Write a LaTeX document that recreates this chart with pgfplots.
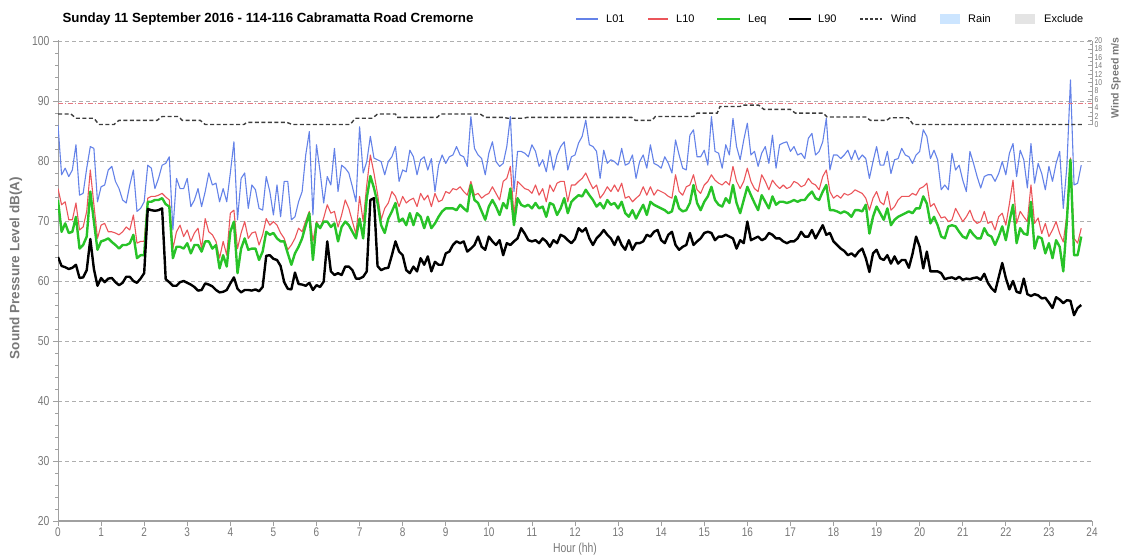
\documentclass[border=0pt]{standalone}
\usepackage{fontspec}
\setmainfont{Liberation Sans}
\newfontfamily\narrowfont[FakeStretch=0.8]{Liberation Sans}
\usepackage{pgfplots}
\pgfplotsset{compat=1.18}
\usepackage{pgfplotstable}
\definecolor{cLa}{RGB}{100,130,232}
\definecolor{cLb}{RGB}{235,85,90}
\definecolor{cLeq}{RGB}{40,195,40}
\definecolor{cgrid}{RGB}{175,175,175}
\definecolor{ctick}{RGB}{120,120,120}
\definecolor{caxis}{RGB}{160,160,160}
\definecolor{crain}{RGB}{204,229,255}
\definecolor{cexcl}{RGB}{228,228,228}
\definecolor{cwind}{RGB}{60,60,60}
\definecolor{climit}{RGB}{230,120,130}

\pgfplotstableread{
min L01 L10 Leq L90
0 86 75.4 73.5 64
5 77.7 72.7 68.2 62.5
10 78.8 73.2 69.6 62.3
15 77.4 70.2 68 62
20 78.5 70.2 68.2 62.2
25 82.7 73 70.7 62.7
30 74.3 68.5 65.4 60.5
35 74.6 69 66 60.6
40 78.8 71.6 67.4 61.8
45 82.4 78.5 74.9 67
50 82.1 72.7 69.9 62
55 73.2 67.1 65.2 59.2
60 75.7 69.3 66.6 60.5
65 76 69.6 66.8 59.8
70 78.5 68.2 67.1 60.4
75 79.1 68.2 66.5 60.5
80 76.6 68 66 59.8
85 75.4 67.7 65.4 59.3
90 73.5 68.2 66 59.7
95 73 69 66 60.7
100 76 68.5 66.3 60.7
105 78.5 71 67.7 60
110 71.6 66.3 63.8 59.7
115 72.1 66.6 64.3 60.4
120 73.2 66.6 64.3 61.3
125 79.3 73.8 73.2 72
130 78.8 74.1 73.2 71.8
135 75.4 74.1 73.5 71.7
140 77.1 74.3 73.5 71.8
145 79.3 74.6 73.8 72.1
150 79.6 74 72.8 60.3
155 80.7 73.5 72.4 59.8
160 68.5 65.4 63.8 59.2
165 77.1 68.2 65.7 59.2
170 75.4 69.3 65.7 59.8
175 75.4 67.4 65.4 60
180 77.1 68.5 66.3 59.7
185 72.4 66.6 64.6 59.4
190 73.5 68 66 59
195 75.4 68.8 66 58.4
200 72.4 65.4 64.9 58.5
205 74.9 70.4 66.6 59.6
210 78 68.2 66.6 59.4
215 76 67.7 65.4 59.1
220 76.3 66.6 66 58.5
225 73.2 63.8 62.1 58.1
230 75.4 66.6 64.3 58.2
235 73.2 64.3 62.4 58.5
240 78 71.3 68.2 59.6
245 83.2 71.8 69.9 60.6
250 70.2 65.4 61.3 58.7
255 77.1 68 65.4 58.1
260 78 69.9 67.1 58.5
265 72.1 67.1 65.2 58.5
270 76 68 65.4 58.4
275 75.2 68.2 65.4 58.6
280 72.1 66 63.5 58.3
285 71.8 67.7 64.9 59
290 77.4 70.4 68.2 64.2
295 74.9 69.3 67.7 64.3
300 71 69.9 68 63.7
305 76 69.3 67.1 63.5
310 70.7 68 66.6 62.5
315 76.6 67.1 66.6 59.8
320 76.6 65.2 64.6 58.7
325 70.2 66 62.7 58.6
330 70.7 67.1 64.6 61.4
335 73.2 68.8 65.7 59.5
340 74.9 68.2 67.1 59.4
345 81 70 69.3 59.2
350 84.9 71.6 71.3 59.7
355 71 66.6 63.5 58.5
360 82.7 69.9 69.6 59.3
365 78.2 68.8 68.8 59
370 73 70.5 69.9 59.9
375 77.4 72.7 69.9 66.6
380 76 71.3 69 61.6
385 82.1 71.6 69.6 61
390 74.9 69 66.6 61.3
395 79.3 71 69 61
400 78.8 73.5 69.9 62.4
405 78 72.1 69.3 62.4
410 75.7 69.9 68.2 61.8
415 73.2 67.8 67.1 60.4
420 85.7 74.1 70.4 60.4
425 78 69.9 67.1 60.7
430 79.9 76 73.8 61.6
435 84.1 81 77.5 73.5
440 80.5 78 75.5 73.8
445 80.2 74.5 73 62.5
450 79.9 70.2 69.3 61.8
455 77.7 72.1 68 62.1
460 79.9 73 70.4 62.2
465 80.7 74.9 71.6 64.3
470 82.4 74.1 73 66.6
475 76.6 72.4 69.9 64.9
480 78.5 74.1 70.4 64.3
485 78.2 73 69.3 61.8
490 81.8 73.5 71.3 61.3
495 80.7 73.8 69.3 62.4
500 77.7 72.4 71.3 61.6
505 80.2 74.6 70.7 63.8
510 80.7 73.5 68.8 62.7
515 78.5 74.3 70.7 64.1
520 80.4 72.4 68.8 61.6
525 74.9 74.6 69.6 63.2
530 79.3 73.2 70.7 62.7
535 81 73.5 71.6 62.7
540 79.6 74.9 72.1 64.6
545 80.7 74.6 72.1 64.9
550 81 75.4 72.1 66
555 82.4 75.2 71.8 66.6
560 81 75.7 72.7 66.3
565 80.7 74.9 72.1 66.6
570 79.1 74.3 71.6 64.9
575 87.4 76.6 76 65.4
580 82.1 74.3 73.5 66
585 81 74.6 73 67.4
590 80.4 73.8 71.6 65.7
595 77.7 74.3 70.2 65.2
600 81.3 74.6 72.4 67.4
605 83.2 75.7 73.5 66.6
610 79.9 74.6 72.4 66
615 79.1 73.5 71 66.8
620 79.6 76.6 73 64.3
625 82.4 77.1 72.1 66.3
630 87.4 79.1 75.4 66
635 74.9 71 69.3 66.6
640 81.6 76.6 73.8 67.1
645 81.6 76 72.7 68.8
650 81.3 75.4 72.4 67.9
655 80.7 75.2 72.7 66.8
660 82.7 74.6 72.1 66.6
665 81.6 76 73 66.8
670 79.1 74.3 72.1 66.3
675 80.2 75.4 72.4 67.1
680 78.2 73.2 70.7 66.6
685 81.8 76 73 65.7
690 78.5 74.9 72.7 66.8
695 81 76.3 71 66.3
700 82.4 76.6 72.1 67.7
705 83.2 76.6 73.8 67.4
710 78.5 73.2 71.3 66.8
715 80.7 76 73.2 66.3
720 81 76 73.8 67
725 83 76.6 74.3 68.8
730 84.1 77.1 74.1 68.2
735 86.8 78 75.2 68.8
740 82.7 76.6 74.3 67.1
745 82.4 75.4 73.5 66
750 81.6 76 72.4 67.1
755 77.1 73.8 73 67.7
760 81.8 74.6 72.1 68.5
765 79.6 75.7 73.5 67.7
770 80.2 74.9 72.7 67.1
775 79.9 76 73 66
780 79.3 74.9 72.1 67.4
785 82.1 76.3 73.2 66
790 79.3 73.8 71.3 65.2
795 79.6 74.1 70.7 66.8
800 81 73.2 71.8 65.2
805 77.1 73.8 70.4 66.3
810 79.9 74.3 71.6 66.3
815 81 75.7 72.7 66.6
820 78.8 74.3 71 67.7
825 82.7 75.7 73.2 67.4
830 79.6 74.3 72.7 68.2
835 79.3 75.2 72.4 68.5
840 78.8 74.9 72.1 66.8
845 80.7 74.6 71.8 66.3
850 79.6 74.1 71.3 67.7
855 78 73.8 71.6 68.2
860 83.5 77.7 74.1 66
865 81 74.9 72.1 65.2
870 78.8 74.3 71.6 65.7
875 78.5 75.7 71.8 66
880 84.3 76 73 68
885 85.2 77.7 76 66
890 80.7 75.2 73 66.6
895 80.7 74.6 71.8 67.1
900 81.8 76 73.2 68
905 79.3 76.6 74.1 68.2
910 87.4 77.7 75.7 68
915 81.6 76.8 73.5 66.8
920 81.3 76.3 72.7 67.4
925 78.8 76 72.4 67.4
930 82.7 76.6 73.8 67.7
935 81 76 73 67.4
940 87.1 79.1 76 67.1
945 82.4 76.6 73 65.4
950 80.2 75.4 71.3 66.8
955 83.5 76.6 73.5 66.3
960 86.3 78.8 75.7 69.9
965 81 76.6 74.3 66.8
970 81.6 75.4 73 67.1
975 79.1 74.9 71.8 67.4
980 81.3 77.7 74.3 66.8
985 82.4 76.6 73.2 67.1
990 79.6 75.2 72.1 68
995 84.3 76.8 74.1 67.7
1000 78.8 76 72.7 67.1
1005 82.7 75.4 73.2 67.1
1010 83 76 73.2 66.6
1015 83.2 75.4 73 66.3
1020 81.6 75.7 73.2 66.6
1025 82.4 76.6 73.5 66.6
1030 81 76.3 73.2 67.1
1035 81.3 75.7 73.5 68.2
1040 80.4 76 73.5 67.4
1045 83.8 77.1 74.3 67.4
1050 84.6 76.3 74.9 68.5
1055 81 76 73.8 67.1
1060 81.6 75.2 73.5 68.2
1065 83.2 77.4 74.9 69.3
1070 87.1 78.5 76 67.7
1075 78.5 74.9 71.8 68
1080 81 73.8 71.8 66.6
1085 81 74.3 71.6 66
1090 80.4 73.8 71.3 65.4
1095 81 74.6 71.6 65
1100 81.8 74.3 71.3 64.3
1105 80.2 74.6 70.7 64.6
1110 81.8 75.2 71.8 64.1
1115 80.2 74.9 71.8 64.9
1120 81 74.6 71.6 65.4
1125 80.4 73.8 72.7 63.8
1130 77.1 71.8 67.9 61.5
1135 79.9 73.8 70.7 64.6
1140 82.4 74.9 72.4 65.2
1145 79.3 73.2 71.3 63.8
1150 79.3 72.7 70.2 63.5
1155 81.6 74.9 72.1 64.3
1160 77.9 71.8 69.3 62.9
1165 80.2 72.4 70.2 64.1
1170 80.4 73.5 70.7 62.9
1175 82.1 74.1 71 63.5
1180 81 74.1 71.3 63.5
1185 80.7 74.1 71.6 62.2
1190 79.6 74.6 71.3 64.5
1195 81 74.3 72.1 67.4
1200 81.6 75.4 72.1 65.7
1205 85.2 75.7 74.1 62.1
1210 84.1 76.3 72.9 64.9
1215 80.4 72.4 69.6 61.6
1220 81.8 72.9 70.7 61.6
1225 80.2 71.6 69.3 61.6
1230 75.2 70.5 67.4 61.3
1235 76 70.7 67.1 60.3
1240 75.2 69.9 69.1 60.5
1245 81.3 70.2 69.3 60.6
1250 78.5 72.1 69.1 60.3
1255 79.3 71 68.2 60.7
1260 76.8 69.9 67.4 60.2
1265 74.9 70.7 67.1 60.4
1270 81.6 71.8 68.5 60.3
1275 79.6 70.2 67.7 60.5
1280 77.4 69.6 67.1 60.6
1285 75.5 69.9 67.1 60.2
1290 77.4 71.6 68.8 61.2
1295 77.7 69.6 67.7 59.7
1300 77.7 69.9 67.4 58.8
1305 76.6 68.5 66 58.2
1310 77.9 70.7 67.4 60.6
1315 79.9 71.3 69.1 63
1320 77.7 69.3 66.8 60.5
1325 81.3 72.9 69.9 58.6
1330 82.9 76.8 72.7 60
1335 77.4 69.6 66.3 58.2
1340 81.8 71.6 68.8 58
1345 80.2 70.7 67.9 60.4
1350 75.5 69.9 67.7 57.8
1355 82.9 76 73.2 57.5
1360 76.3 69.6 65.4 57.8
1365 79.6 70.5 67.4 57.6
1370 77.9 67.9 67.1 57.1
1375 75.2 69.6 64.6 57.2
1380 79.1 67.4 66.3 56.4
1385 76.6 68.5 63.8 55.5
1390 79.6 69.9 66.8 57.3
1395 81.6 67.9 65.7 56.9
1400 72.1 66.5 61.6 56.3
1405 79.1 71 70 56.8
1410 93.5 80.5 80.2 56.7
1415 76 67.1 64.3 54.3
1420 76.3 66.3 64.3 55.5
1425 79.3 68.8 67.4 56
}\noisedata

\pgfplotstableread{
min wind
0 2.5
18 2.5
25 1.5
50 1.5
57 0
78 0
85 1
138 1
145 1.9
168 1.9
173 1
198 1
205 0
259 0
263 0.5
319 0.5
326 0
407 0
414 1.5
438 1.5
445 2.5
470 2.5
472 1.7
528 1.7
533 2.5
588 2.5
595 1.7
621 1.7
626 1.5
649 1.5
653 1.7
799 1.7
804 1
827 1
832 1.9
885 1.9
890 2.7
918 2.7
922 4.3
950 4.3
953 4.6
976 4.6
983 3.6
1020 3.6
1027 2.7
1066 2.7
1071 1.8
1126 1.8
1131 1
1154 1
1159 1.6
1184 1.6
1191 0
1428 0
}\winddata

\begin{document}
\begin{tikzpicture}[x=1pt,y=1pt]
\useasboundingbox (0,0) rectangle (1124,556);
\begin{axis}[
  at={(58pt,35pt)}, anchor=south west, scale only axis,
  width=1034pt, height=480.6pt,
  xmin=0, xmax=1440, ymin=20, ymax=100.1,
  axis x line*=bottom, axis y line*=left,
  x axis line style={draw=caxis, line width=2pt},
  y axis line style={draw=caxis, line width=1pt},
  xtick={0,60,...,1440}, xticklabels={0,1,...,24},
  ytick={20,30,...,100},
  minor y tick num=4,
  tick align=outside,
  major tick length=5pt, minor tick length=3pt,
  every tick/.style={draw=caxis, line width=0.8pt},
  ymajorgrids,
  grid style={draw=cgrid, dash pattern=on 4pt off 3pt, line width=0.8pt},
  /pgf/number format/assume math mode=true,
  xticklabel style={font=\narrowfont\fontsize{12.5}{13}\selectfont, text=ctick, yshift=2pt},
  yticklabel style={font=\narrowfont\fontsize{13}{14}\selectfont, text=ctick},
]
\addplot[cLa, line width=1.1pt, line join=round] table[x=min, y=L01]{\noisedata};
\addplot[cLb, line width=1.1pt, line join=round] table[x=min, y=L10]{\noisedata};
\addplot[cLeq, line width=2.4pt, line join=round] table[x=min, y=Leq]{\noisedata};
\addplot[black, line width=2.4pt, line join=round] table[x=min, y=L90]{\noisedata};
\end{axis}
\begin{axis}[
  at={(58pt,35pt)}, anchor=south west, scale only axis,
  width=1034pt, height=480.6pt,
  xmin=0, xmax=1440, ymin=-94.4, ymax=20.03,
  axis x line=none, axis y line*=right,
  y axis line style={draw=none},
  ytick={0,2,...,20}, minor ytick={1,3,...,19},
  tick align=inside,
  major tick length=4pt, minor tick length=2.5pt,
  every tick/.style={draw=caxis, line width=0.6pt},
  /pgf/number format/assume math mode=true,
  yticklabel style={font=\narrowfont\fontsize{8.5}{9}\selectfont, text=ctick, xshift=-1pt},
  clip=false,
]
\addplot[climit, line width=0.8pt, dash pattern=on 5pt off 2pt on 1pt off 2pt] coordinates {(0,5) (1440,5)};
\addplot[cwind, line width=1.4pt, dash pattern=on 4pt off 2.5pt] table[x=min, y=wind]{\winddata};
\draw[caxis, line width=1pt] (axis cs:1440,0) -- (axis cs:1440,20);
\end{axis}
% titles and labels
\node[anchor=west, font=\bfseries\fontsize{13.3}{15}\selectfont] at (59,537) {Sunday 11 September 2016 - 114-116 Cabramatta Road Cremorne};
\node[rotate=90, font=\bfseries\fontsize{13.5}{15}\selectfont, text=ctick] at (16,288) {Sound Pressure Level dB(A)};
\node[font=\narrowfont\fontsize{13}{14}\selectfont, text=ctick] at (575,6.5) {Hour (hh)};
\node[rotate=90, font=\bfseries\fontsize{10.5}{12}\selectfont, text=ctick] at (1116,478) {Wind Speed m/s};
% legend
\begin{scope}[font=\fontsize{11}{13}\selectfont]
\draw[cLa, line width=1.1pt] (576,537) -- (598,537);
\node[anchor=base west, inner sep=0pt] at (606,533) {L01};
\draw[cLb, line width=1.1pt] (648,537) -- (668,537);
\node[anchor=base west, inner sep=0pt] at (676,533) {L10};
\draw[cLeq, line width=2pt] (717,537) -- (740,537);
\node[anchor=base west, inner sep=0pt] at (748,533) {Leq};
\draw[black, line width=2pt] (789,537) -- (811,537);
\node[anchor=base west, inner sep=0pt] at (818,533) {L90};
\draw[cwind, line width=1.2pt, dash pattern=on 3pt off 2pt] (860,537) -- (882,537);
\node[anchor=base west, inner sep=0pt] at (891,533) {Wind};
\fill[crain] (940,532) rectangle (960,542);
\node[anchor=base west, inner sep=0pt] at (968,533) {Rain};
\fill[cexcl] (1015,532) rectangle (1035,542);
\node[anchor=base west, inner sep=0pt] at (1044,533) {Exclude};
\end{scope}
\end{tikzpicture}
\end{document}
